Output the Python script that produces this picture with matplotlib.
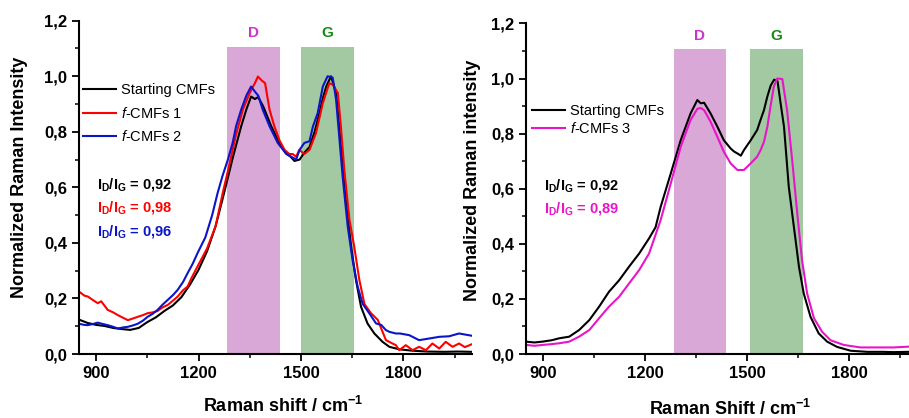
import numpy as np
import matplotlib
matplotlib.use("Agg")
import matplotlib.pyplot as plt
from matplotlib.ticker import MultipleLocator, FuncFormatter

plt.rcParams.update({
    "font.family": "Liberation Sans",
    "mathtext.fontset": "custom",
    "mathtext.rm": "Liberation Sans:bold",
    "mathtext.bf": "Liberation Sans:bold",
    "mathtext.it": "Liberation Sans:italic",
})

# ---- left panel: starting CMFs, f-CMFs 1, f-CMFs 2
x_start_l = [850, 875, 900, 925, 950, 975, 1000, 1025, 1050, 1075, 1100, 1125,
             1150, 1175, 1200, 1225, 1250, 1275, 1300, 1325, 1340, 1354, 1365,
             1375, 1390, 1413, 1437, 1455, 1470, 1481, 1496, 1510, 1525, 1540,
             1554, 1565, 1574, 1588, 1603, 1617, 1632, 1647, 1661, 1676, 1695,
             1715, 1739, 1759, 1788, 1827, 1870, 1920, 1960, 2000]
y_start_l = [0.124, 0.112, 0.105, 0.101, 0.094, 0.090, 0.087, 0.094, 0.115,
             0.132, 0.155, 0.175, 0.205, 0.250, 0.303, 0.370, 0.460, 0.580,
             0.705, 0.820, 0.880, 0.927, 0.918, 0.925, 0.890, 0.820, 0.760,
             0.725, 0.710, 0.695, 0.700, 0.725, 0.745, 0.800, 0.867, 0.925,
             0.963, 1.000, 0.940, 0.747, 0.543, 0.387, 0.267, 0.170, 0.110,
             0.074, 0.044, 0.026, 0.017, 0.012, 0.009, 0.008, 0.009, 0.008]

x_f1 = [850, 866, 876, 890, 905, 915, 934, 950, 964, 980, 993, 1008, 1022,
        1037, 1051, 1066, 1080, 1095, 1110, 1125, 1139, 1155, 1168, 1180, 1197,
        1225, 1250, 1271, 1290, 1310, 1330, 1350, 1365, 1374, 1385, 1395, 1408,
        1422, 1437, 1452, 1466, 1476, 1486, 1495, 1510, 1525, 1544, 1564, 1583,
        1593, 1608, 1617, 1627, 1642, 1656, 1671, 1686, 1705, 1725, 1737, 1749,
        1768, 1778, 1788, 1807, 1827, 1846, 1866, 1885, 1905, 1924, 1944, 1963,
        1980, 2000]
y_f1 = [0.225, 0.210, 0.207, 0.195, 0.183, 0.190, 0.159, 0.150, 0.140, 0.130,
        0.122, 0.128, 0.134, 0.140, 0.147, 0.150, 0.155, 0.168, 0.177, 0.192,
        0.207, 0.230, 0.243, 0.275, 0.315, 0.380, 0.460, 0.580, 0.680, 0.790,
        0.880, 0.940, 0.975, 0.999, 0.985, 0.975, 0.880, 0.820, 0.770, 0.735,
        0.720, 0.720, 0.710, 0.735, 0.720, 0.735, 0.795, 0.903, 0.975, 0.970,
        0.940, 0.819, 0.663, 0.483, 0.387, 0.267, 0.180, 0.147, 0.123, 0.086,
        0.050, 0.038, 0.032, 0.014, 0.032, 0.014, 0.026, 0.014, 0.038, 0.020,
        0.044, 0.026, 0.038, 0.025, 0.035]

x_f2 = [850, 865, 876, 890, 905, 920, 934, 950, 964, 980, 993, 1008, 1022,
        1037, 1051, 1066, 1080, 1095, 1110, 1125, 1139, 1155, 1168, 1183, 1197,
        1220, 1240, 1256, 1270, 1286, 1300, 1310, 1325, 1340, 1354, 1365, 1375,
        1388, 1408, 1432, 1457, 1472, 1486, 1496, 1510, 1525, 1535, 1549, 1564,
        1578, 1593, 1603, 1613, 1622, 1637, 1651, 1666, 1681, 1700, 1720, 1735,
        1749, 1759, 1778, 1790, 1817, 1846, 1876, 1905, 1934, 1963, 2000]
y_f2 = [0.109, 0.105, 0.104, 0.108, 0.113, 0.108, 0.104, 0.098, 0.092, 0.096,
        0.098, 0.103, 0.109, 0.120, 0.134, 0.145, 0.159, 0.178, 0.195, 0.212,
        0.231, 0.260, 0.291, 0.325, 0.363, 0.420, 0.500, 0.580, 0.640, 0.700,
        0.760, 0.820, 0.880, 0.930, 0.963, 0.945, 0.930, 0.880, 0.820, 0.760,
        0.720, 0.710, 0.700, 0.735, 0.760, 0.766, 0.819, 0.867, 0.963, 1.000,
        0.995, 0.915, 0.770, 0.640, 0.459, 0.340, 0.243, 0.180, 0.147, 0.110,
        0.105, 0.086, 0.080, 0.074, 0.074, 0.068, 0.050, 0.056, 0.062, 0.064,
        0.074, 0.066]

# ---- right panel: starting CMFs, f-CMFs 3
x_start_r = [850, 875, 898, 925, 947, 977, 1006, 1036, 1065, 1094, 1124, 1153,
             1183, 1212, 1231, 1246, 1276, 1305, 1334, 1354, 1364, 1374, 1393,
             1413, 1432, 1452, 1462, 1472, 1482, 1491, 1511, 1530, 1540, 1550,
             1560, 1570, 1580, 1590, 1599, 1609, 1623, 1638, 1653, 1667, 1687,
             1711, 1736, 1765, 1805, 1854, 1900, 1932, 1978, 2000]
y_start_r = [0.045, 0.042, 0.045, 0.050, 0.057, 0.063, 0.087, 0.123, 0.172,
             0.226, 0.268, 0.317, 0.365, 0.420, 0.460, 0.534, 0.656, 0.776,
             0.873, 0.922, 0.910, 0.912, 0.873, 0.825, 0.776, 0.746, 0.735,
             0.728, 0.720, 0.740, 0.776, 0.813, 0.850, 0.885, 0.935, 0.975,
             0.996, 0.990, 0.910, 0.825, 0.607, 0.462, 0.317, 0.220, 0.135,
             0.075, 0.045, 0.026, 0.012, 0.008, 0.008, 0.007, 0.008, 0.007]

x_f3 = [850, 875, 898, 925, 947, 977, 1006, 1036, 1065, 1094, 1124, 1153,
        1183, 1212, 1246, 1276, 1305, 1334, 1354, 1364, 1374, 1393, 1413, 1432,
        1452, 1472, 1491, 1511, 1530, 1540, 1550, 1560, 1569, 1579, 1589, 1604,
        1618, 1633, 1648, 1662, 1677, 1697, 1721, 1746, 1785, 1834, 1883, 1932,
        1978, 2000]
y_f3 = [0.033, 0.030, 0.033, 0.036, 0.039, 0.045, 0.063, 0.087, 0.130, 0.172,
        0.208, 0.256, 0.305, 0.365, 0.486, 0.620, 0.752, 0.849, 0.890, 0.893,
        0.885, 0.843, 0.788, 0.734, 0.692, 0.668, 0.668, 0.692, 0.716, 0.740,
        0.770, 0.825, 0.897, 0.970, 1.000, 0.998, 0.885, 0.704, 0.510, 0.341,
        0.220, 0.130, 0.081, 0.050, 0.033, 0.024, 0.024, 0.024, 0.027, 0.025]

# band limits (cm-1) and height
d_band_l = [1282, 1440]
g_band_l = [1500, 1655]
d_band_r = [1284, 1439]
g_band_r = [1510, 1665]
band_top = 1.107

ratios_l = ["0,92", "0,98", "0,96"]
ratios_r = ["0,92", "0,89"]

BLACK, RED, BLUE, MAG = "#000000", "#ff0000", "#0a14c8", "#e815c8"
D_FILL, G_FILL = "#d9a8d7", "#a3c9a3"

fig = plt.figure(figsize=(9.09, 4.18), dpi=100)
ax1 = fig.add_axes([0.0869, 0.153, 0.432, 0.7975])
ax2 = fig.add_axes([0.5787, 0.153, 0.430, 0.791])


def style(ax):
    ax.set_xlim(850, 2000)
    ax.set_ylim(0, 1.2)
    for s in ("top", "right"):
        ax.spines[s].set_visible(False)
    for s in ("left", "bottom"):
        ax.spines[s].set_linewidth(1.5)
    ax.xaxis.set_major_locator(MultipleLocator(300))
    ax.xaxis.set_minor_locator(MultipleLocator(150))
    ax.yaxis.set_major_locator(MultipleLocator(0.2))
    ax.yaxis.set_minor_locator(MultipleLocator(0.1))
    ax.yaxis.set_major_formatter(
        FuncFormatter(lambda v, p: f"{v:.1f}".replace(".", ",")))
    ax.tick_params(which="major", direction="out", length=5, width=1.3,
                   labelsize=12)
    ax.tick_params(which="minor", direction="out", length=3, width=1.1)
    for lab in ax.get_xticklabels() + ax.get_yticklabels():
        lab.set_fontweight("bold")


def bands(ax, d, g):
    ax.fill_between(d, 0, band_top, color=D_FILL, lw=0, zorder=0)
    ax.fill_between(g, 0, band_top, color=G_FILL, lw=0, zorder=0)
    ax.text(np.mean(d), 1.155, "D", color="#cc33cc", fontsize=11,
            fontweight="bold", ha="center", va="center")
    ax.text(np.mean(g), 1.155, "G", color="#168a16", fontsize=11,
            fontweight="bold", ha="center", va="center")


# left
style(ax1)
bands(ax1, d_band_l, g_band_l)
ax1.plot(x_start_l, y_start_l, color=BLACK, lw=1.5, label="Starting CMFs")
ax1.plot(x_f1, y_f1, color=RED, lw=1.5, label=r"$\mathit{f}$-CMFs 1")
ax1.plot(x_f2, y_f2, color=BLUE, lw=1.5, label=r"$\mathit{f}$-CMFs 2")
ax1.legend(loc="upper left", bbox_to_anchor=(-0.005, 0.83), frameon=False,
           fontsize=10.5, handlelength=2.3, handletextpad=0.3,
           labelspacing=0.58, borderaxespad=0)
for r, c, yy in zip(ratios_l, [BLACK, RED, BLUE], [0.61, 0.526, 0.44]):
    ax1.text(903, yy, r"I$_{\mathrm{D}}$/I$_{\mathrm{G}}$ = " + r, color=c,
             fontsize=10.5, fontweight="bold", ha="left", va="center")
ax1.set_xlabel(r"Raman shift / cm$^{-1}$", fontsize=13, fontweight="bold")
ax1.set_ylabel("Normalized Raman Intensity", fontsize=13, fontweight="bold")
ax1.xaxis.set_label_coords(0.52, -0.125)
ax1.yaxis.set_label_coords(-0.13, 0.53)

# right
style(ax2)
bands(ax2, d_band_r, g_band_r)
ax2.plot(x_start_r, y_start_r, color=BLACK, lw=1.5, label="Starting CMFs")
ax2.plot(x_f3, y_f3, color=MAG, lw=1.5, label=r"$\mathit{f}$-CMFs 3")
ax2.legend(loc="upper left", bbox_to_anchor=(0.0, 0.775), frameon=False,
           fontsize=10.5, handlelength=2.3, handletextpad=0.3,
           labelspacing=0.22, borderaxespad=0)
for r, c, yy in zip(ratios_r, [BLACK, MAG], [0.613, 0.53]):
    ax2.text(903, yy, r"I$_{\mathrm{D}}$/I$_{\mathrm{G}}$ = " + r, color=c,
             fontsize=10.5, fontweight="bold", ha="left", va="center")
ax2.set_xlabel(r"Raman Shift / cm$^{-1}$", fontsize=13, fontweight="bold")
ax2.set_ylabel("Normalized Raman intensity", fontsize=13, fontweight="bold")
ax2.xaxis.set_label_coords(0.522, -0.135)
ax2.yaxis.set_label_coords(-0.115, 0.526)

fig.savefig("out.png", dpi=100)
